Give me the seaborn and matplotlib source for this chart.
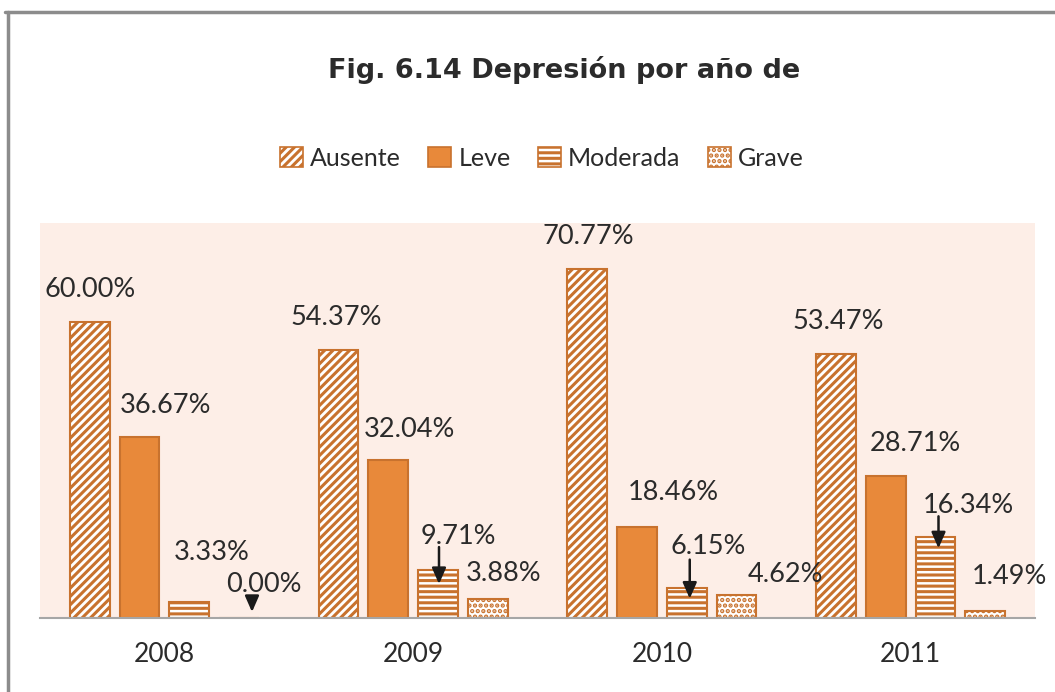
import numpy as np
import pandas as pd
import matplotlib
matplotlib.use("Agg")
import matplotlib.pyplot as plt
import matplotlib.transforms as mtransforms
from matplotlib.lines import Line2D
from matplotlib.patches import Patch
import seaborn as sns

# ---------------- data ----------------
years = ["2008", "2009", "2010", "2011"]
levels = ["Ausente", "Leve", "Moderada", "Grave"]
ausente = [60.00, 54.37, 70.77, 53.47]
leve = [36.67, 32.04, 18.46, 28.71]
moderada = [3.33, 9.71, 6.15, 16.34]
grave = [0.00, 3.88, 4.62, 1.49]
title = "Fig. 6.14 Depresión por año de"

df = pd.DataFrame({
    "year": np.repeat(years, len(levels)),
    "level": levels * len(years),
    "value": np.array([ausente, leve, moderada, grave]).T.flatten(),
})

# ---------------- style ----------------
ORANGE = "#E8893A"
EDGE = "#C8722E"
BG = "#FDEEE7"
TXT = "#2B2B2B"
hatches = {"Ausente": "////", "Leve": "", "Moderada": "---", "Grave": "..."}
faces = {"Ausente": "white", "Leve": ORANGE, "Moderada": "white", "Grave": "white"}

# label offsets in pixels (dx, dy up) from bar top center, per year per level
label_off = {
    ("2008", "Ausente"): (0, 32), ("2008", "Leve"): (26, 31), ("2008", "Moderada"): (22, 49), ("2008", "Grave"): (25, 34),
    ("2009", "Ausente"): (-2, 32), ("2009", "Leve"): (21, 30), ("2009", "Moderada"): (20, 34), ("2009", "Grave"): (16, 25),
    ("2010", "Ausente"): (1, 32), ("2010", "Leve"): (36, 34), ("2010", "Moderada"): (21, 41), ("2010", "Grave"): (49, 21),
    ("2011", "Ausente"): (2, 32), ("2011", "Leve"): (30, 33), ("2011", "Moderada"): (33, 32), ("2011", "Grave"): (24, 34),
}
arrow_off = {
    ("2008", "Grave"): ((13, 21), (13, 6)),
    ("2009", "Moderada"): ((1, 23), (1, -14)),
    ("2010", "Moderada"): ((3, 28), (3, -11)),
    ("2011", "Moderada"): ((3, 21), (3, -11)),
}

sns.set_theme(style="white")
plt.rcParams["font.family"] = ["Lato", "DejaVu Sans"]
plt.rcParams["hatch.linewidth"] = 2.2

fig = plt.figure(figsize=(10.55, 6.92), dpi=100)
ax = fig.add_axes([40 / 1055, 1 - 618 / 692, 995 / 1055, 395 / 692])
ax.set_facecolor(BG)

sns.barplot(data=df, x="year", y="value", hue="level", order=years, hue_order=levels,
            palette=[ORANGE] * 4, gap=0.2, width=0.8, legend=False, ax=ax,
            edgecolor=EDGE, linewidth=1.5, err_kws={"linewidth": 0})

for lev, cont in zip(levels, ax.containers):
    for p in cont.patches:
        p.set_facecolor(faces[lev])
        p.set_hatch(hatches[lev])
        p.set_edgecolor(EDGE)
        try:
            p.set_hatchcolor(ORANGE)
        except Exception:
            pass

ax.set_ylim(0, 80)
ax.set_xlim(-0.5, 3.5)
ax.set_yticks([])
ax.set_xlabel("")
ax.set_ylabel("")
for s in ["top", "left", "right"]:
    ax.spines[s].set_visible(False)
ax.spines["bottom"].set_color("#A6A6A6")
ax.spines["bottom"].set_linewidth(1.5)
ax.tick_params(axis="x", length=0, labelsize=19, colors=TXT, pad=17)

def off_trans(dx, dy):
    return ax.transData + mtransforms.ScaledTranslation(dx / 100, dy / 100, fig.dpi_scale_trans)

for lev, cont in zip(levels, ax.containers):
    for yr, p in zip(years, cont.patches):
        bx = p.get_x() + p.get_width() / 2
        top = p.get_height()
        dx, dy = label_off[(yr, lev)]
        ax.text(bx, top, f"{top:.2f}%", transform=off_trans(dx, dy), ha="center", va="center",
                fontsize=19.5, color=TXT)
        if (yr, lev) in arrow_off:
            (tx, ty), (hx, hy) = arrow_off[(yr, lev)]
            ax.annotate("", xy=(bx, top), xycoords=off_trans(hx, hy),
                        xytext=(bx, top), textcoords=off_trans(tx, ty),
                        arrowprops=dict(arrowstyle="-|>,head_length=0.8,head_width=0.35",
                                        color="#1a1a1a", lw=1.8, shrinkA=0, shrinkB=0))

fig.text(564 / 1055, 1 - 70 / 692, title, ha="center", va="center", fontsize=19.5,
         fontweight="bold", color=TXT, family=["DejaVu Sans"])

handles = [Patch(facecolor=faces[l], edgecolor=EDGE, hatch=hatches[l], linewidth=1.2) for l in levels]
fig.legend(handles, levels, loc="center", bbox_to_anchor=(542 / 1055, 1 - 158 / 692), ncol=4,
           frameon=False, fontsize=18, handlelength=0.9, handleheight=0.9, handletextpad=0.3,
           columnspacing=1.1, labelcolor=TXT)

# outer frame (cropped chart border)
fig.add_artist(Line2D([5 / 1055, 1], [1 - 12 / 692] * 2, transform=fig.transFigure, color="#8C8C8C", lw=2.5))
fig.add_artist(Line2D([8 / 1055] * 2, [0, 1 - 12 / 692], transform=fig.transFigure, color="#8C8C8C", lw=2.5))

fig.savefig("out.png", dpi=100, facecolor="white")
